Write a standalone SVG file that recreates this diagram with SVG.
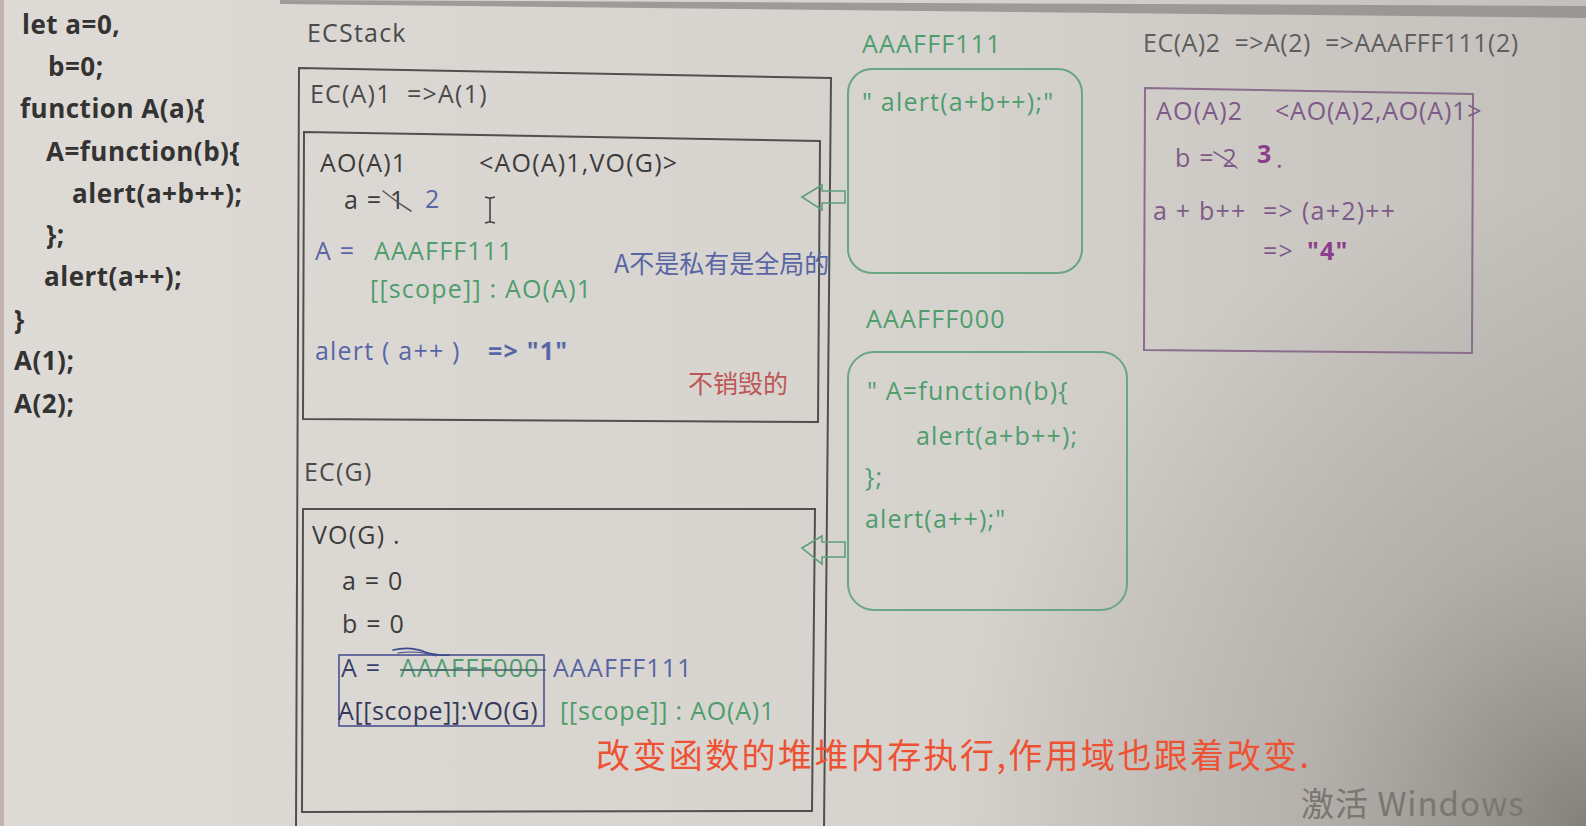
<svg xmlns="http://www.w3.org/2000/svg" width="1586" height="826" viewBox="0 0 1586 826">
  <defs>
    <linearGradient id="bgLinear" x1="0" y1="0" x2="1" y2="0">
      <stop offset="0" stop-color="#dedbd6"/>
      <stop offset="0.6" stop-color="#d6d3ce"/>
      <stop offset="1" stop-color="#c3bfba"/>
    </linearGradient>
    <radialGradient id="bgShade" cx="1586" cy="826" r="640" gradientUnits="userSpaceOnUse">
      <stop offset="0" stop-color="#6a655f" stop-opacity="0.7"/>
      <stop offset="0.45" stop-color="#8a8580" stop-opacity="0.34"/>
      <stop offset="1" stop-color="#8a8580" stop-opacity="0"/>
    </radialGradient>
    <style>
      .code { font-family: "Open Sans", "Noto Sans", sans-serif; font-weight: 700; font-size: 26px; letter-spacing: 0.5px; fill: #333333; }
      .t { font-family: "Open Sans", "Noto Sans CJK SC", sans-serif; font-size: 25px; letter-spacing: 1.2px; }
      .cjk { font-family: "Noto Sans CJK SC", "Open Sans", sans-serif; letter-spacing: 0; }
      .dark { fill: #3c3c3c; }
      .grey { fill: #4a4a4a; }
      .blue { fill: #5866a6; }
      .green { fill: #4f9d6d; }
      .purple { fill: #7e5a88; }
      .plum { fill: #8b3f8a; font-weight: 700; }
      .box { fill: none; stroke: #505050; stroke-width: 2; }
      .heap { fill: none; stroke: #6aa584; stroke-width: 2; }
      .ao2 { fill: none; stroke: #8c6d8c; stroke-width: 2; }
      .mark { fill: none; stroke-linecap: round; }
      .hollow { fill: none; stroke: #5f9f7c; stroke-width: 1.6; stroke-linejoin: miter; }
    </style>
  </defs>

  <!-- screen background -->
  <rect x="0" y="0" width="1586" height="826" fill="url(#bgLinear)"/>
  <rect x="0" y="0" width="1586" height="826" fill="url(#bgShade)"/>
  <polygon points="280,0 1586,6 1586,18 280,4" fill="#8e8c89" opacity="0.8"/>
  <rect x="0" y="0" width="4" height="826" fill="#b8a29e" opacity="0.7"/>

  <!-- source code -->
  <g id="code">
    <text class="code" x="22" y="34">let a=0,</text>
    <text class="code" x="48" y="76">b=0;</text>
    <text class="code" x="20" y="118">function A(a){</text>
    <text class="code" x="46" y="161">A=function(b){</text>
    <text class="code" x="72" y="203">alert(a+b++);</text>
    <text class="code" x="46" y="244">};</text>
    <text class="code" x="44" y="286">alert(a++);</text>
    <text class="code" x="14" y="329">}</text>
    <text class="code" x="14" y="370">A(1);</text>
    <text class="code" x="14" y="413">A(2);</text>
  </g>

  <!-- execution context stack -->
  <g id="ecstack">
    <text class="t grey" x="307" y="42">ECStack</text>
    <path class="box" d="M299,68 L831,78 L824,830 L296,830 Z"/>
  </g>

  <g id="ec-a1">
    <text class="t grey" x="310" y="103" xml:space="preserve">EC(A)1  =&gt;A(1)</text>
  </g>

  <g id="ao-a1">
    <path class="box" d="M304,132 L820,141 L818,422 L303,419 Z"/>
    <text class="t dark" x="320" y="172">AO(A)1</text>
    <text class="t dark" x="479" y="172">&lt;AO(A)1,VO(G)&gt;</text>
    <text class="t dark" x="344" y="209">a = 1</text>
    <path class="mark" d="M383,191 L400,204 L411,211" stroke="#555" stroke-width="1.5"/>
    <text class="t blue" x="425" y="208">2</text>
    <!-- text cursor -->
    <path d="M490,198 L490,222 M485,197 L489,198 L491,198 L495,197 M485,223 L489,222 L491,222 L495,223" fill="none" stroke="#444" stroke-width="1.6"/>
    <text class="t blue" x="315" y="260">A =</text>
    <text class="t green" x="374" y="260">AAAFFF111</text>
    <text class="t green" x="370" y="298">[[scope]] : AO(A)1</text>
    <text class="t cjk blue" x="614" y="273">A不是私有是全局的</text>
    <text class="t blue" x="315" y="360">alert ( a++ )</text>
    <text class="t blue" x="488" y="360" font-weight="700">=&gt; "1"</text>
    <text class="t cjk" x="688" y="393" fill="#bd5656">不销毁的</text>
  </g>

  <g id="ec-g">
    <text class="t grey" x="304" y="481">EC(G)</text>
  </g>

  <g id="vo-g">
    <path class="box" d="M303,509 L815,509 L812,811 L302,812 Z"/>
    <text class="t dark" x="312" y="544">VO(G) .</text>
    <text class="t dark" x="342" y="590">a = 0</text>
    <text class="t dark" x="342" y="633">b = 0</text>
    <rect x="339" y="655" width="205" height="71" fill="none" stroke="#4a5090" stroke-width="1.6"/>
    <text class="t" x="341" y="677" fill="#3a3f6a">A =</text>
    <text class="t green" x="400" y="677">AAAFFF000</text>
    <line x1="400" y1="670" x2="546" y2="670" stroke="#3f5f6a" stroke-width="1.6"/>
    <path class="mark" d="M393,650 Q410,646 425,652 Q438,656 449,655" stroke="#3a4a8a" stroke-width="1.6"/>
    <path class="mark" d="M398,653 Q418,650 436,656" stroke="#3a4a8a" stroke-width="1.2"/>
    <text class="t" x="553" y="677" fill="#5a64a0">AAAFFF111</text>
    <text class="t" x="338" y="720" fill="#353a5a" style="letter-spacing:0.6px">A[[scope]]:VO(G)</text>
    <text class="t green" x="560" y="720" style="letter-spacing:0.8px">[[scope]] : AO(A)1</text>
  </g>

  <!-- heap: function objects -->
  <g id="heap-aaafff111">
    <text class="t green" x="862" y="53">AAAFFF111</text>
    <rect class="heap" x="848" y="69" width="234" height="204" rx="24"/>
    <text class="t green" x="862" y="111">" alert(a+b++);"</text>
  </g>

  <g id="heap-aaafff000">
    <text class="t green" x="866" y="328">AAAFFF000</text>
    <rect class="heap" x="848" y="352" width="279" height="258" rx="26"/>
    <text class="t green" x="867" y="400">" A=function(b){</text>
    <text class="t green" x="916" y="445">alert(a+b++);</text>
    <text class="t green" x="865" y="486">};</text>
    <text class="t green" x="865" y="528">alert(a++);"</text>
  </g>

  <!-- second call context -->
  <g id="ec-a2">
    <text class="t" x="1143" y="52" fill="#5e5e5e" xml:space="preserve" style="letter-spacing:0.5px">EC(A)2  =&gt;A(2)  =&gt;AAAFFF111(2)</text>
    <path class="ao2" d="M1145,88 L1473,94 L1472,353 L1144,350 Z"/>
    <text class="t purple" x="1156" y="120">AO(A)2</text>
    <text class="t purple" x="1275" y="120" style="letter-spacing:0.8px">&lt;AO(A)2,AO(A)1&gt;</text>
    <text class="t purple" x="1175" y="167">b = 2</text>
    <path class="mark" d="M1214,152 L1227,160 L1237,168" stroke="#7e5a88" stroke-width="1.5"/>
    <text class="t plum" x="1257" y="163">3</text>
    <text class="t purple" x="1276" y="168">.</text>
    <text class="t purple" y="220"><tspan x="1153">a + b++</tspan><tspan x="1263">=&gt;</tspan><tspan x="1302">(a+2)++</tspan></text>
    <text class="t purple" y="260"><tspan x="1263">=&gt;</tspan><tspan x="1307" class="plum">"4"</tspan></text>
  </g>

  <!-- scope arrows from the context boxes to the heap objects -->
  <g id="connectors">
    <polygon class="hollow" points="802,197 822,185 822,191 845,191 845,203 822,203 822,210"/>
    <polygon class="hollow" points="802,548 822,536 822,542 845,542 845,557 822,557 822,564"/>
  </g>

  <g id="note">
    <text class="cjk" x="596" y="768" font-size="34" fill="#ee5234" style="letter-spacing:2.4px">改变函数的堆堆内存执行,作用域也跟着改变.</text>
  </g>

  <g id="watermark">
    <text class="cjk" x="1301" y="816" font-size="33" fill="#7a7671" style="letter-spacing:1px">激活 Windows</text>
  </g>
</svg>
